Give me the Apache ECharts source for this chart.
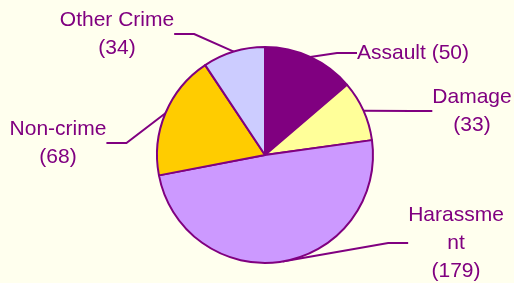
<!DOCTYPE html>
<html><head><meta charset="utf-8">
<script src="https://cdn.jsdelivr.net/npm/echarts@6/dist/echarts.min.js"></script>
<style>html,body{margin:0;padding:0;background:#FFFFEE;}#c{width:514px;height:283px;}</style>
</head><body><div id="c"></div>
<script>
const categories = ["Assault", "Damage", "Harassment", "Non-crime", "Other Crime"];
const values = [50, 33, 179, 68, 34];
const labelTexts = ["Assault (50)", "Damage\n(33)", "Harassme\nnt\n(179)", "Non-crime\n(68)", "Other Crime\n(34)"];
const colors = ["#800080", "#FFFF99", "#CC99FF", "#FFCC00", "#CCCCFF"];
const labelPos = [
  {x: 357, y: 53, align: 'left'},
  {x: 472, y: 111, align: 'center'},
  {x: 456, y: 243, align: 'center'},
  {x: 58, y: 143, align: 'center'},
  {x: 117, y: 34, align: 'center'}
];
const chart = echarts.init(document.getElementById('c'));
chart.setOption({
  backgroundColor: '#FFFFEE',
  animation: false,
  series: [{
    type: 'pie',
    center: [265, 155],
    radius: 108,
    startAngle: 90,
    clockwise: true,
    data: categories.map((n, i) => ({name: n, value: values[i], itemStyle: {color: colors[i]}})),
    itemStyle: {borderColor: '#800080', borderWidth: 2},
    label: {
      show: true,
      formatter: p => labelTexts[p.dataIndex],
      color: '#800080',
      fontFamily: 'Liberation Sans, Arial, sans-serif',
      fontSize: 21,
      lineHeight: 28
    },
    labelLine: {show: true, lineStyle: {color: '#800080', width: 2}, length: 20, length2: 20},
    labelLayout: p => ({
      x: labelPos[p.dataIndex].x,
      y: labelPos[p.dataIndex].y,
      align: labelPos[p.dataIndex].align,
      verticalAlign: 'middle'
    }),
    emphasis: {disabled: true}
  }]
});
</script></body></html>
